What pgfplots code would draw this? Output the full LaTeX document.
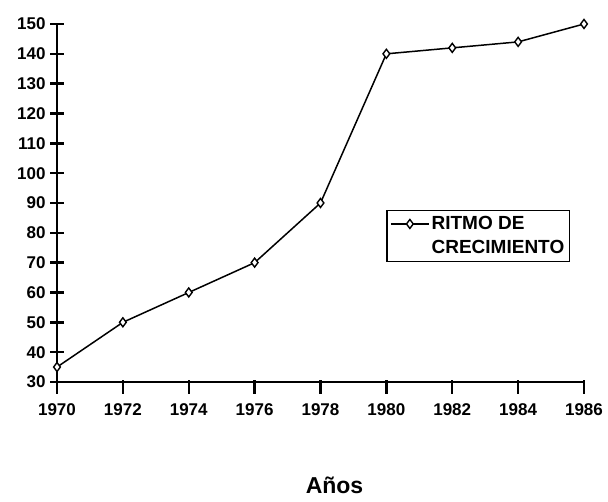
\documentclass[border=0pt]{standalone}
\usepackage{fontspec}
\setmainfont{Liberation Sans}
\usepackage{pgfplots}
\pgfplotsset{compat=1.18}
\begin{document}
\begin{tikzpicture}
\path[use as bounding box] (-57pt,-120pt) rectangle (551pt,382pt);
\begin{axis}[
  scale only axis,
  width=527pt, height=358pt,
  at={(0pt,0pt)}, anchor=south west,
  xmin=1970, xmax=1986, ymin=30, ymax=150,
  xtick={1970,1972,...,1986},
  ytick={30,40,...,150},
  axis lines*=left,
  axis line style={line width=2.4pt, -},
  tick align=center,
  major tick length=14pt,
  tick style={line width=2.4pt, black},
  xtick style={yshift=-5pt},
  /pgf/number format/assume math mode=true,
  /pgf/number format/1000 sep={},
  ticklabel style={font=\fontsize{17}{18}\selectfont\bfseries},
  xticklabel style={yshift=-11pt},
  yticklabel style={xshift=-1pt},
  xlabel={Años},
  xlabel style={at={(axis description cs:0.5,0)}, anchor=center, xshift=14pt, yshift=-103pt, font=\fontsize{23}{26}\selectfont\bfseries},
  clip=false,
  legend style={at={(axis cs:1980,87.7)}, anchor=north west, draw=black, line width=1.5pt,
    font=\fontsize{19}{24}\selectfont\bfseries, inner xsep=3pt, inner ysep=4pt,
    nodes={align=left, inner sep=2pt},
    cells={anchor=west}},
  legend image code/.code={\draw[mark repeat=2,mark phase=2, yshift=12pt] plot coordinates {(0pt,0pt)(19pt,0pt)(38pt,0pt)};},
]
\addplot[black, line width=1.5pt, mark=diamond*, mark size=4.5pt,
  mark options={fill=white, line width=1.4pt}]
  coordinates {(1970,35) (1972,50) (1974,60) (1976,70) (1978,90) (1980,140) (1982,142) (1984,144) (1986,150)};
\addlegendentry{RITMO DE\\CRECIMIENTO}
\end{axis}
\end{tikzpicture}
\end{document}
